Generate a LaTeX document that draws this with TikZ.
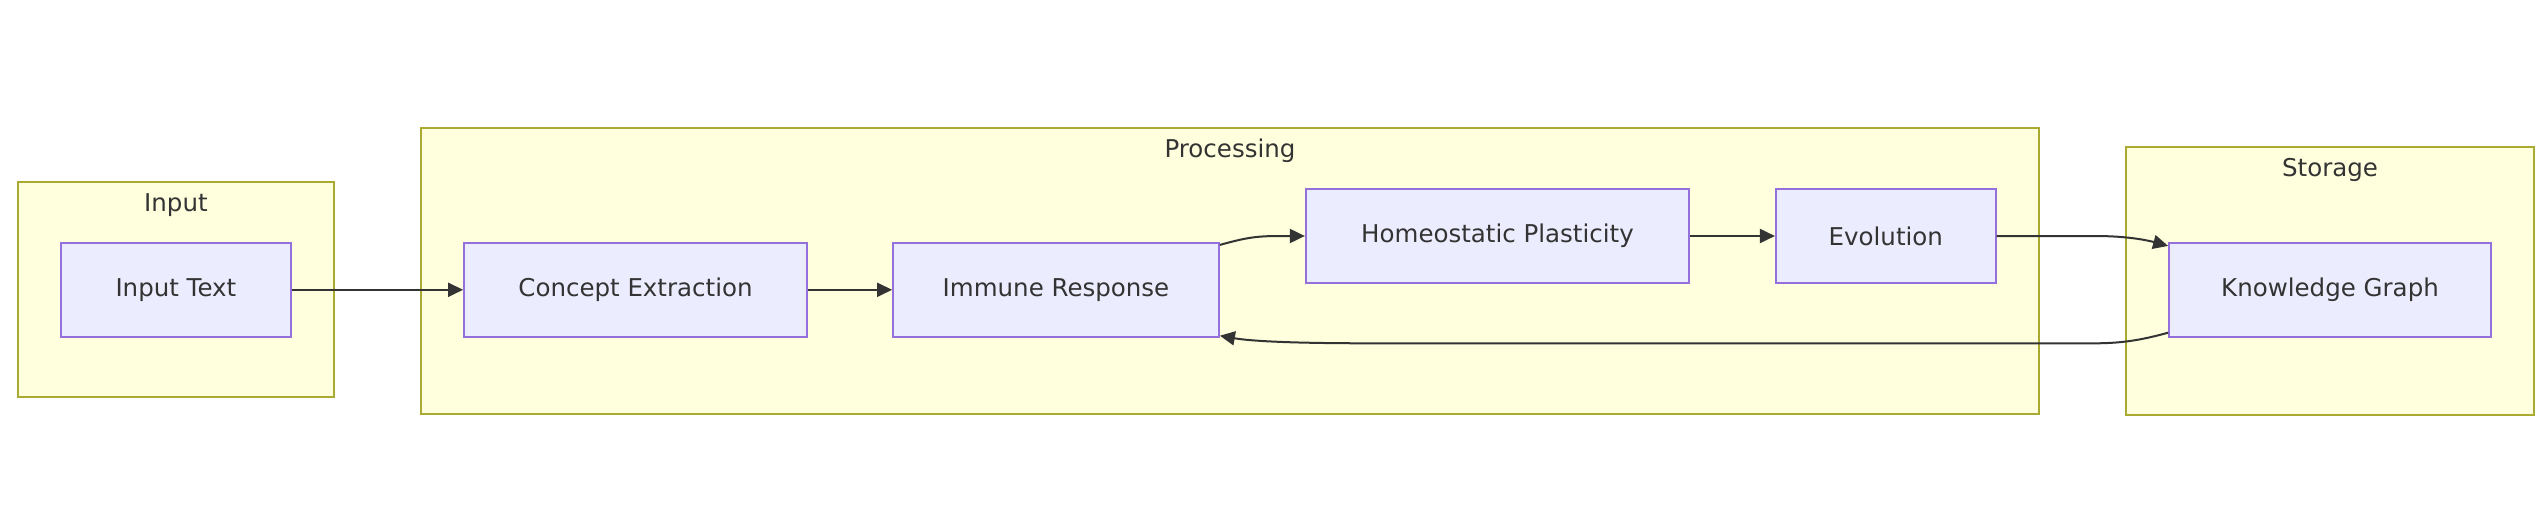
\documentclass[tikz,border=0pt]{standalone}
\usepackage{fontspec}
\setmainfont{DejaVu Sans}
\usetikzlibrary{arrows.meta}
\definecolor{clfill}{HTML}{FFFFDE}
\definecolor{clline}{HTML}{AAAA33}
\definecolor{ndfill}{HTML}{ECECFF}
\definecolor{ndline}{HTML}{9370DB}
\definecolor{txt}{HTML}{333333}
\definecolor{edge}{HTML}{333333}
\tikzset{
  cluster/.style={draw=clline, fill=clfill, line width=2pt},
  clabel/.style={text=txt, font=\fontsize{24.5}{29}\selectfont, inner sep=0pt},
  box/.style={draw=ndline, fill=ndfill, line width=1.8pt, text=txt, inner sep=0pt,
    font=\fontsize{24.5}{29}\selectfont, minimum height=94pt, anchor=center},
  link/.style={draw=edge, line width=2pt, -{Triangle[length=15pt,width=14pt]}},
}
\begin{document}
\begin{tikzpicture}[x=1pt,y=-1pt]
\useasboundingbox (0,0) rectangle (2544,506);
% clusters
\draw[cluster] (17.5,181.7) rectangle (334,397.3);
\node[clabel] (inputlbl) at (175.9,205) {Input};
\draw[cluster] (421,128.3) rectangle (2039,414.3);
\node[clabel] (proclbl) at (1230,151) {Processing};
\draw[cluster] (2126,147.3) rectangle (2534,415);
\node[clabel] (storlbl) at (2330,169.5) {Storage};
% nodes
\node[box, minimum width=230pt] (in) at (175.9,289.8) {Input Text};
\node[box, minimum width=343pt] (ce) at (635.5,289.8) {Concept Extraction};
\node[box, minimum width=326pt] (ir) at (1056,289.8) {Immune Response};
\node[box, minimum width=383.5pt] (hp) at (1497.5,236) {Homeostatic Plasticity};
\node[box, minimum width=220pt] (ev) at (1885.8,236) {Evolution};
\node[box, minimum width=322pt] (kg) at (2330,289.8) {Knowledge Graph};
% anchor coordinates for curved edges
\coordinate (irOut) at ([yshift=-3pt]ir.north east);
\coordinate (irIn) at ([yshift=2pt]ir.south east);
\coordinate (kgIn) at ([yshift=-4pt]kg.north west);
\coordinate (kgOut) at ([yshift=5pt]kg.south west);
% edges
\draw[link] (in.east) -- (ce.west);
\draw[link] (ce.east) -- (ir.west);
\draw[link] (irOut) .. controls (1245,238) and (1255,236) .. (1280,236) -- (hp.west);
\draw[link] (hp.east) -- (ev.west);
\draw[link] (ev.east) -- (2095,236) .. controls (2130,236) and (2150,241) .. (kgIn);
\draw[link] (kgOut) .. controls (2145,339) and (2125,343.3) .. (2095,343.3) -- (1370,343.3) .. controls (1290,343.3) and (1250,341) .. (irIn);
\end{tikzpicture}
\end{document}
